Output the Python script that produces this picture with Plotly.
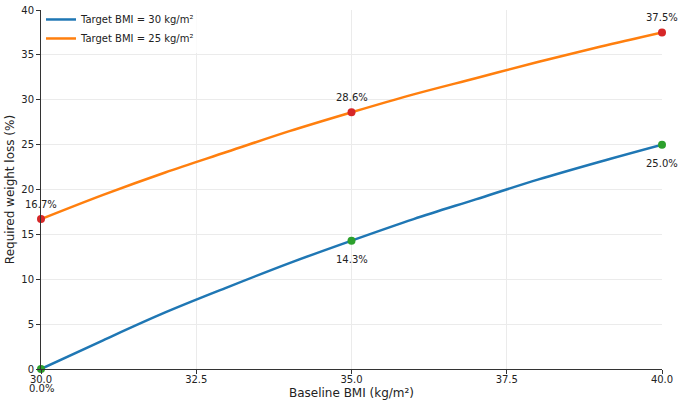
import plotly.graph_objects as go

baseline = [30, 31, 32, 33, 34, 35, 36, 37, 38, 39, 40]
loss_t30 = [0.0, 3.2, 6.3, 9.1, 11.8, 14.3, 16.7, 18.9, 21.1, 23.1, 25.0]
loss_t25 = [16.7, 19.4, 21.9, 24.2, 26.5, 28.6, 30.6, 32.4, 34.2, 35.9, 37.5]

key_x = [30, 35, 40]
key_t30 = [0.0, 14.3, 25.0]
key_t25 = [16.7, 28.6, 37.5]

x_ticks = [30.0, 32.5, 35.0, 37.5, 40.0]
y_ticks = [0, 5, 10, 15, 20, 25, 30, 35, 40]

BLUE = "#1f77b4"
ORANGE = "#ff7f0e"
RED = "#d62728"
GREEN = "#2ca02c"
FONT = "DejaVu Sans"

fig = go.Figure()
fig.add_trace(go.Scatter(x=baseline, y=loss_t30, mode="lines", name="Target BMI = 30 kg/m²",
                         line=dict(color=BLUE, width=2.5, shape="spline")))
fig.add_trace(go.Scatter(x=baseline, y=loss_t25, mode="lines", name="Target BMI = 25 kg/m²",
                         line=dict(color=ORANGE, width=2.5, shape="spline")))
fig.add_trace(go.Scatter(x=key_x, y=key_t30, mode="markers", showlegend=False,
                         marker=dict(color=GREEN, size=8), cliponaxis=False))
fig.add_trace(go.Scatter(x=key_x, y=key_t25, mode="markers", showlegend=False,
                         marker=dict(color=RED, size=8), cliponaxis=False))

for x, y in zip(key_x, key_t30):
    fig.add_annotation(x=x, y=y, text=f"{y:.1f}%", showarrow=False, yshift=-19,
                       font=dict(family=FONT, size=10, color="#222"))
for x, y in zip(key_x, key_t25):
    fig.add_annotation(x=x, y=y, text=f"{y:.1f}%", showarrow=False, yshift=15,
                       font=dict(family=FONT, size=10, color="#222"))

fig.update_layout(
    width=685, height=400,
    margin=dict(l=41, r=23, t=10, b=31, autoexpand=False),
    plot_bgcolor="white", paper_bgcolor="white",
    font=dict(family=FONT, size=10, color="#222"),
    legend=dict(x=0.0, y=1.014, xanchor="left", yanchor="top", bgcolor="rgba(255,255,255,0.8)",
                font=dict(family=FONT, size=10), itemwidth=30, tracegroupgap=0),
    xaxis=dict(range=[30, 40], tickvals=x_ticks, ticktext=[f"{v:.1f}" for v in x_ticks],
               showgrid=True, gridcolor="#ebebeb", gridwidth=1, automargin=False,
               showline=True, linecolor="#333", linewidth=1, zeroline=False,
               ticks="outside", ticklen=4, tickcolor="#333", ticklabelstandoff=-3,
               title=dict(text="Baseline BMI (kg/m²)", font=dict(family=FONT, size=12), standoff=4)),
    yaxis=dict(range=[0, 40], tickvals=y_ticks, automargin=False,
               showgrid=True, gridcolor="#ebebeb", gridwidth=1,
               showline=True, linecolor="#333", linewidth=1, zeroline=False,
               ticks="outside", ticklen=4, tickcolor="#333",
               title=dict(text="Required weight loss (%)", font=dict(family=FONT, size=12), standoff=4)),
)

fig.write_html("out.html")
